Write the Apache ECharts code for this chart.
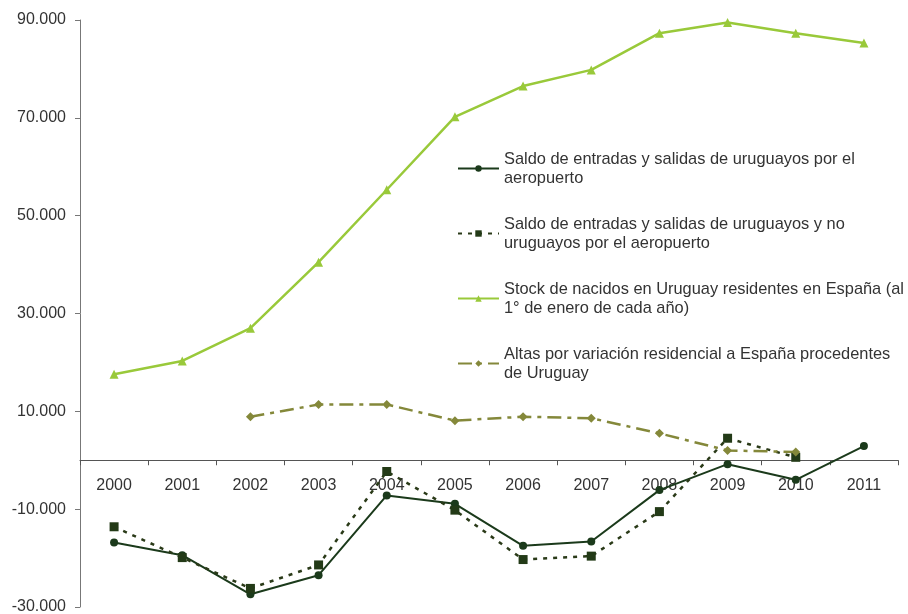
<!DOCTYPE html>
<html>
<head>
<meta charset="utf-8">
<script src="https://cdn.jsdelivr.net/npm/echarts@6/dist/echarts.min.js"></script>
<style>
  html, body { margin: 0; padding: 0; background: #fff; }
  #chart { width: 908px; height: 614px; }
</style>
</head>
<body>
<div id="chart"></div>
<script>
const years = ['2000', '2001', '2002', '2003', '2004', '2005', '2006', '2007', '2008', '2009', '2010', '2011']

// valores
const saldoUruguayos = [-16800, -19400, -27400, -23500, -7200, -8900, -17500, -16600, -6100, -800, -4000, 2900]
const saldoTotal = [-13600, -19900, -26200, -21400, -2300, -10200, -20300, -19600, -10500, 4500, 600, null]
const stockNacidos = [17600, 20300, 27000, 40500, 55300, 70200, 76500, 79800, 87300, 89500, 87300, 85300]
const altasVariacion = [null, null, 8900, 11400, 11400, 8100, 8900, 8600, 5500, 2000, 1700, null]

const names = [
    'Saldo de entradas y salidas de uruguayos por el aeropuerto',
    'Saldo de entradas y salidas de uruguayos y no uruguayos por el aeropuerto',
    'Stock de nacidos en Uruguay residentes en España (al 1° de enero de cada año)',
    'Altas por variación residencial a España procedentes de Uruguay'
]
const wrapped = {
    [names[0]]: 'Saldo de entradas y salidas de uruguayos por el\naeropuerto',
    [names[1]]: 'Saldo de entradas y salidas de uruguayos y no\nuruguayos por el aeropuerto',
    [names[2]]: 'Stock de nacidos en Uruguay residentes en España (al\n1° de enero de cada año)',
    [names[3]]: 'Altas por variación residencial a España procedentes\nde Uruguay'
}

const fmt = v => {
    const s = Math.abs(v).toString().replace(/\B(?=(\d{3})+(?!\d))/g, '.')
    return (v < 0 ? '-' : '') + s
}

const chart = echarts.init(document.getElementById('chart'))
chart.setOption({
    animation: false,
    textStyle: { fontFamily: 'Liberation Sans, Arial, sans-serif' },
    grid: { left: 80, right: 10, top: 20, bottom: 7, outerBoundsMode: 'none' },
    legend: {
        orient: 'vertical',
        left: 457,
        top: 140,
        padding: 0,
        itemGap: 8,
        itemWidth: 41,
        itemHeight: 8,
        data: names,
        formatter: n => wrapped[n],
        textStyle: { fontSize: 16.4, color: '#333', lineHeight: 19, padding: [19, 0, 0, 0] }
    },
    xAxis: {
        type: 'category',
        data: years,
        boundaryGap: true,
        axisLine: { onZero: true, lineStyle: { color: '#555', width: 1 } },
        axisTick: { show: true, length: 5, lineStyle: { color: '#555' } },
        // las etiquetas van pegadas a la línea del cero (serie de abajo)
        axisLabel: { show: false }
    },
    yAxis: {
        type: 'value',
        min: -30000,
        max: 90000,
        interval: 20000,
        axisLine: { show: true, lineStyle: { color: '#777' } },
        axisTick: { show: true, length: 5, lineStyle: { color: '#777' } },
        splitLine: { show: false },
        axisLabel: { fontSize: 16, color: '#333', margin: 14, formatter: fmt }
    },
    series: [
        {
            name: 'yearLabels',
            type: 'scatter',
            silent: true,
            symbolSize: 0,
            itemStyle: { opacity: 1 },
            data: years.map(y => [y, 0]),
            label: {
                show: true,
                position: 'bottom',
                distance: 17,
                fontSize: 16,
                color: '#333',
                opacity: 1,
                formatter: p => p.value[0]
            },
            z: 1
        },
        {
            name: names[0],
            type: 'line',
            data: saldoUruguayos,
            symbol: 'circle',
            symbolSize: 8,
            itemStyle: { color: '#1b3a1b' },
            lineStyle: { color: '#1b3a1b', width: 2 }
        },
        {
            name: names[1],
            type: 'line',
            data: saldoTotal,
            symbol: 'rect',
            symbolSize: 9,
            itemStyle: { color: '#233a17' },
            lineStyle: { color: '#2a3a18', width: 2.5, type: [4, 6] }
        },
        {
            name: names[2],
            type: 'line',
            data: stockNacidos,
            symbol: 'triangle',
            symbolSize: 9,
            itemStyle: { color: '#99c93a' },
            lineStyle: { color: '#99c93a', width: 2.5 }
        },
        {
            name: names[3],
            type: 'line',
            data: altasVariacion,
            symbol: 'diamond',
            symbolSize: 9,
            itemStyle: { color: '#84883a' },
            lineStyle: { color: '#84883a', width: 2.5, type: [14, 6, 4, 6] }
        }
    ]
})
</script>
</body>
</html>
